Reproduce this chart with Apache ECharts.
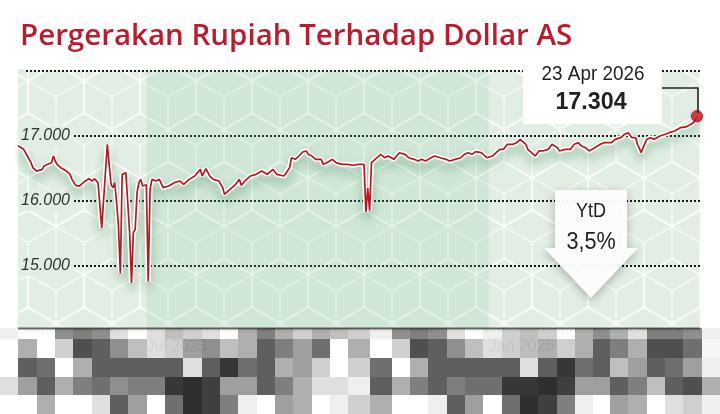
<!DOCTYPE html>
<html><head><meta charset="utf-8">
<script src="https://cdn.jsdelivr.net/npm/echarts@6/dist/echarts.min.js"></script>
<style>html,body{margin:0;padding:0;background:#fff}#c{width:720px;height:414px}</style>
</head><body><div id="c"></div>
<script>
const titleText = 'Pergerakan Rupiah Terhadap Dollar AS';
const startDate = [2025, 3, 23];
const dayOffsets = [0,3,4,6,7,8,10,11,13,14,16,18,19,20,21,23,26,28,29,31,33,35,36,38,40,41,43,44,45,48,50,51,52,53,54,55,56,58,59,60,61,62,63,64,65,66,67,68,69,70,71,72,74,76,78,81,84,87,89,92,95,96,98,99,101,103,105,108,110,111,113,114,117,119,120,122,125,128,131,134,137,139,143,146,147,149,151,153,155,156,158,160,163,164,166,169,171,172,174,177,180,183,186,187,188,189,190,193,195,197,199,202,205,206,208,210,213,215,217,219,222,224,227,230,232,235,238,240,242,244,246,247,249,252,255,257,259,261,263,264,266,268,270,271,273,274,276,278,280,282,285,287,290,291,294,297,299,301,303,305,307,310,313,315,316,319,321,324,326,328,330,332,333,335,336,338,340,342,345,348,350,353,356,357,359,361,363,364,365];
const rates = [16851,16795,16770,16642,16590,16512,16460,16435,16487,16538,16564,16590,16692,16615,16564,16512,16460,16410,16333,16241,16230,16282,16308,16343,16308,16343,16282,16256,15580,16870,16256,16205,16282,15974,15615,14885,16410,16435,16420,15513,14740,15513,15564,16128,16282,16333,16230,16256,16250,14760,16180,16333,16308,16333,16205,16230,16282,16308,16256,16333,16385,16410,16487,16385,16497,16385,16333,16308,16205,16103,16154,16180,16256,16333,16241,16308,16385,16410,16460,16410,16487,16410,16385,16512,16666,16641,16692,16754,16770,16718,16692,16641,16641,16564,16590,16641,16590,16615,16564,16564,16550,16564,16564,15830,16200,15850,16590,16666,16718,16666,16692,16641,16743,16770,16718,16666,16641,16615,16641,16615,16666,16692,16666,16641,16615,16641,16666,16718,16743,16718,16759,16770,16743,16666,16692,16743,16795,16795,16872,16846,16872,16897,16949,16974,16872,16795,16743,16692,16770,16770,16795,16872,16820,16770,16795,16795,16872,16897,16846,16820,16770,16820,16872,16897,16923,16897,16949,16974,17026,17051,16974,16974,16872,16743,16820,16949,16974,16949,17000,17026,17051,17077,17128,17154,17140,17169,17205,17241,17304];
const yTicks = [14000, 15000, 16000, 17000, 18000];
const yLabelled = [15000, 16000, 17000];
const xLabelDates = [[2025, 6, 1], [2026, 0, 1]];
const xLabelText = ['Jul 2025', 'Jan 2026'];
const highlightRange = [[2025, 6, 1], [2026, 0, 1]];
const lastDateText = '23 Apr 2026';
const lastValueText = '17.304';
const ytdTitle = 'YtD';
const ytdValue = '3,5%';

const mosaicRows = [
 ['eee','fff','fff','888','777','888','ddd','fff','ddd','bbb','ccc','ddd','fff','aaa','777','aaa','ccc','aaa','bbb','ccc','eee','888','777','888','ddd','fff','eee','ccc','bbb','ccc','fff','aaa','888','aaa','ddd','777','777','888','eee'],
 ['fff','aaa','fff','ccc','444','555','888','bbb','ddd','ccc','999','888','bbb','aaa','555','777','999','666','fff','aaa','fff','ccc','444','555','888','bbb','ddd','ccc','bbb','aaa','ccc','aaa','555','777','aaa','444','444','666','f5f5f5'],
 ['fff','555','666','fff','aaa','555','555','555','555','555','ddd','555','2a2a2a','666','555','aaa','999','ccc','fff','ccc','666','fff','aaa','555','555','555','555','555','ddd','555','2a2a2a','666','555','bbb','999','555','666','999','eee'],
 ['ddd','999','555','aaa','777','666','888','777','777','2a2a2a','222','333','999','999','555','777','aaa','ddd','ddd','eee','555','aaa','777','555','777','666','666','2a2a2a','2a2a2a','222','333','999','999','555','777','bbb','555','444','aaa'],
 ['fff','fff','aaa','fff','fff','ddd','555','999','fff','666','222','333','777','eee','fff','999','aaa','fff','eee','ccc','aaa','fff','fff','eee','555','999','fff','666','222','333','777','eee','fff','999','aaa','fff','ddd','ccc','eee']
];
const mosaicCols = [0,18,37,55,73,92,110,128,147,165,183,202,220,238,257,275,293,312,330,348,370,392,410,428,447,465,483,502,520,538,557,575,593,610,628,647,665,683,702,720];
const mosaicRowsY = [328,339,358,377,395,414];

function ts(y, m, d) { return new Date(y, m, d).getTime(); }
const seriesData = dayOffsets.map((o, i) => [ts(startDate[0], startDate[1], startDate[2] + o), rates[i]]);
const fmt = v => String(v).replace(/\B(?=(\d{3})+(?!\d))/g, '.');
const xLabelTs = xLabelDates.map(d => ts(d[0], d[1], d[2]));

function makePattern() {
  const W = 56, H = 97, sh = H / 3;
  const c = document.createElement('canvas'); c.width = W; c.height = H;
  const g = c.getContext('2d');
  g.fillStyle = '#e2eee4'; g.fillRect(0, 0, W, H);
  g.strokeStyle = 'rgba(255,255,255,0.5)'; g.lineWidth = 2;
  [[0,0],[W,0],[W/2,1.5*sh],[0,3*sh],[W,3*sh]].forEach(([cx, cy]) => {
    const v = [[cx,cy-sh],[cx+W/2,cy-sh/2],[cx+W/2,cy+sh/2],[cx,cy+sh],[cx-W/2,cy+sh/2],[cx-W/2,cy-sh/2]];
    g.beginPath(); v.forEach((p, i) => i ? g.lineTo(p[0], p[1]) : g.moveTo(p[0], p[1])); g.closePath(); g.stroke();
    g.beginPath(); g.moveTo(cx, cy); g.lineTo(v[5][0], v[5][1]); g.moveTo(cx, cy); g.lineTo(v[1][0], v[1][1]);
    g.moveTo(cx, cy); g.lineTo(v[3][0], v[3][1]); g.stroke();
  });
  return c;
}

const mosaic = [];
mosaicRows.forEach((row, r) => {
  row.forEach((col, i) => {
    mosaic.push({ type: 'rect', z: 100, silent: true,
      shape: { x: mosaicCols[i], y: mosaicRowsY[r], width: mosaicCols[i+1] - mosaicCols[i], height: mosaicRowsY[r+1] - mosaicRowsY[r] },
      style: { fill: '#' + col, opacity: 0.94 } });
  });
});
mosaic.push({ type: 'line', z: 101, silent: true, shape: { x1: 18, y1: 328.5, x2: 700, y2: 328.5 }, style: { stroke: 'rgba(50,50,50,0.75)', lineWidth: 2 } });

const chart = echarts.init(document.getElementById('c'), null, { renderer: 'canvas' });
const last = seriesData[seriesData.length - 1];
chart.setOption({
  animation: false,
  backgroundColor: '#fff',
  title: { text: titleText, left: 15, top: 17, textStyle: { fontFamily: 'Open Sans', fontWeight: 600, fontSize: 29.5, color: '#bd1a2b' } },
  grid: { left: 18, right: 20, top: 71, bottom: 83, show: true, borderWidth: 0, backgroundColor: { image: makePattern(), repeat: 'repeat' } },
  xAxis: {
    type: 'value',
    min: ts(startDate[0], startDate[1], startDate[2]),
    max: ts(startDate[0], startDate[1], startDate[2]) + 366.6 * 86400000,
    axisLine: { show: false }, axisTick: { show: false }, splitLine: { show: false },
    axisLabel: {
      customValues: xLabelTs,
      formatter: v => { const i = xLabelTs.indexOf(v); return i >= 0 ? xLabelText[i] : ''; },
      align: 'left', margin: 8, fontSize: 16, color: '#333', fontFamily: 'Liberation Sans'
    }
  },
  yAxis: {
    type: 'value', min: yTicks[0], max: yTicks[yTicks.length - 1], interval: 1000,
    axisLine: { show: false }, axisTick: { show: false },
    splitLine: { show: true, lineStyle: { color: '#1a1a1a', width: 2, type: [2, 2] } },
    axisLabel: {
      inside: true, margin: 0, fontSize: 16, fontStyle: 'italic', color: '#333', fontFamily: 'Liberation Sans',
      backgroundColor: '#e2eee4', padding: [2, 4, 2, 3],
      formatter: v => yLabelled.includes(v) ? fmt(v) : ''
    }
  },
  series: [
    { type: 'line', data: seriesData, showSymbol: false, silent: true, z: 2,
      lineStyle: { color: '#ffffff', width: 5, shadowColor: 'rgba(60,140,90,0.45)', shadowBlur: 10, shadowOffsetY: 6 },
      markArea: { silent: true, itemStyle: { color: 'rgba(120,190,140,0.16)' },
        data: [[{ xAxis: ts(...highlightRange[0]) }, { xAxis: ts(...highlightRange[1]) }]] } },
    { type: 'line', data: seriesData, showSymbol: false, silent: true, z: 3,
      lineStyle: { color: '#c0141c', width: 1.7 } },
    { type: 'scatter', data: [last], z: 6, symbolSize: 11, silent: true,
      itemStyle: { color: '#dc1c24', borderColor: '#a8101a', borderWidth: 1, shadowColor: 'rgba(0,0,0,0.3)', shadowBlur: 3 } }
  ],
  graphic: mosaic.concat([
    { type: 'rect', z: 50, silent: true, shape: { x: 523, y: 62, width: 139, height: 62 }, style: { fill: '#ffffff' } },
    { type: 'text', z: 51, x: 593, y: 74, scaleX: 0.9, silent: true, style: { text: lastDateText, x: 0, y: 0, align: 'center', verticalAlign: 'middle', fontFamily: 'Liberation Sans', fontSize: 21, fill: '#222' } },
    { type: 'text', z: 51, x: 591, y: 102, scaleX: 0.97, silent: true, style: { text: lastValueText, x: 0, y: 0, align: 'center', verticalAlign: 'middle', fontFamily: 'Liberation Sans', fontWeight: 'bold', fontSize: 24, fill: '#222' } },
    { type: 'polyline', z: 51, silent: true, shape: { points: [[662, 88], [698, 88], [698, 113]] }, style: { stroke: '#222', lineWidth: 1.6, fill: null } },
    { type: 'polygon', z: 52, silent: true, shape: { points: [[555,190],[627,190],[627,248],[638,248],[591,298],[544,248],[555,248]] },
      style: { fill: 'rgba(255,255,255,0.95)', shadowColor: 'rgba(0,0,0,0.28)', shadowBlur: 10, shadowOffsetY: 3 } },
    { type: 'text', z: 53, x: 591, y: 211, scaleX: 0.9, silent: true, style: { text: ytdTitle, x: 0, y: 0, align: 'center', verticalAlign: 'middle', fontFamily: 'Liberation Sans', fontSize: 20, fill: '#222' } },
    { type: 'text', z: 53, x: 591, y: 242, scaleX: 0.9, silent: true, style: { text: ytdValue, x: 0, y: 0, align: 'center', verticalAlign: 'middle', fontFamily: 'Liberation Sans', fontSize: 24, fill: '#222' } }
  ])
});
</script></body></html>
